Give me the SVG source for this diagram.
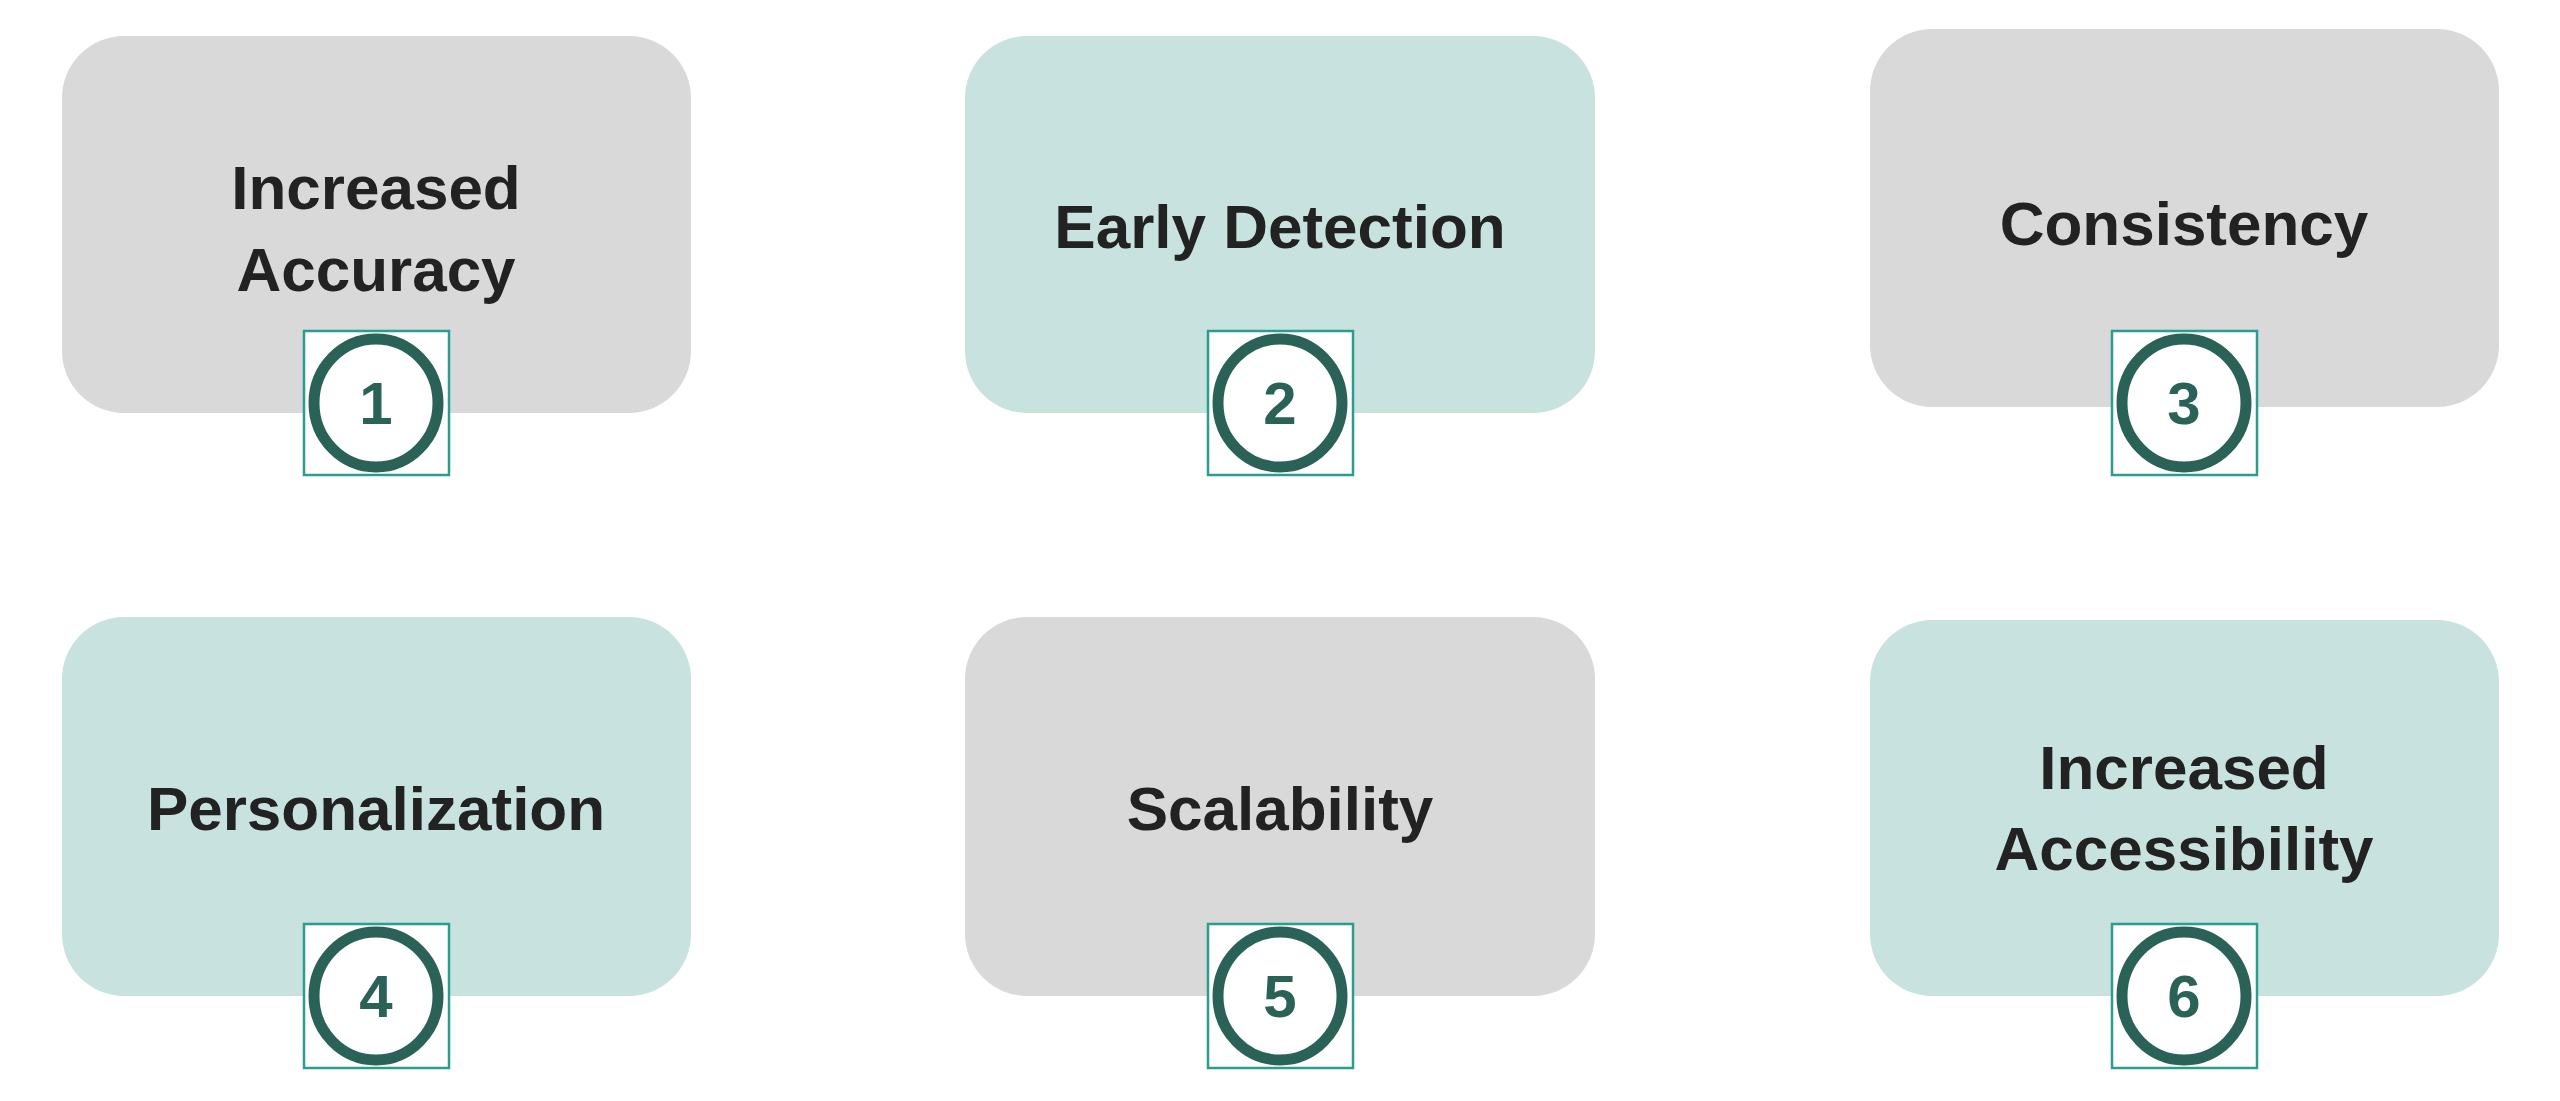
<svg xmlns="http://www.w3.org/2000/svg" width="2560" height="1101" viewBox="0 0 2560 1101">
<style>
.g{fill:#d9d9d9}.t{fill:#c8e3df}
.lbl{font-family:"Liberation Sans",Arial,sans-serif;font-weight:bold;font-size:62px;fill:#222;text-anchor:middle}
.sq{fill:#fff;stroke:#2a9d8f;stroke-width:2.5}
.ring{fill:none;stroke:#2b6258;stroke-width:11}
.num{font-family:"Liberation Sans",Arial,sans-serif;font-weight:bold;font-size:60px;fill:#2b6258;text-anchor:middle}
</style>
<rect width="2560" height="1101" fill="#fff"/>
<g id="connectors"/>
<g id="n1"><rect class="g" x="62" y="36" width="629" height="377" rx="62"/>
<text class="lbl" x="376" y="209">Increased</text><text class="lbl" x="376" y="291">Accuracy</text>
<rect class="sq" x="304" y="331" width="145" height="144"/><ellipse class="ring" cx="376" cy="403" rx="62" ry="64"/><text class="num" x="376" y="424">1</text></g>
<g id="n2"><rect class="t" x="965" y="36" width="630" height="377" rx="62"/>
<text class="lbl" x="1280" y="248">Early Detection</text>
<rect class="sq" x="1208" y="331" width="145" height="144"/><ellipse class="ring" cx="1280" cy="403" rx="62" ry="64"/><text class="num" x="1280" y="424">2</text></g>
<g id="n3"><rect class="g" x="1870" y="29" width="629" height="378" rx="62"/>
<text class="lbl" x="2184" y="245">Consistency</text>
<rect class="sq" x="2112" y="331" width="145" height="144"/><ellipse class="ring" cx="2184" cy="403" rx="62" ry="64"/><text class="num" x="2184" y="424">3</text></g>
<g id="n4"><rect class="t" x="62" y="617" width="629" height="379" rx="62"/>
<text class="lbl" x="376" y="830">Personalization</text>
<rect class="sq" x="304" y="924" width="145" height="144"/><ellipse class="ring" cx="376" cy="996" rx="62" ry="64"/><text class="num" x="376" y="1017">4</text></g>
<g id="n5"><rect class="g" x="965" y="617" width="630" height="379" rx="62"/>
<text class="lbl" x="1280" y="830">Scalability</text>
<rect class="sq" x="1208" y="924" width="145" height="144"/><ellipse class="ring" cx="1280" cy="996" rx="62" ry="64"/><text class="num" x="1280" y="1017">5</text></g>
<g id="n6"><rect class="t" x="1870" y="620" width="629" height="376" rx="62"/>
<text class="lbl" x="2184" y="789">Increased</text><text class="lbl" x="2184" y="870">Accessibility</text>
<rect class="sq" x="2112" y="924" width="145" height="144"/><ellipse class="ring" cx="2184" cy="996" rx="62" ry="64"/><text class="num" x="2184" y="1017">6</text></g>
</svg>
